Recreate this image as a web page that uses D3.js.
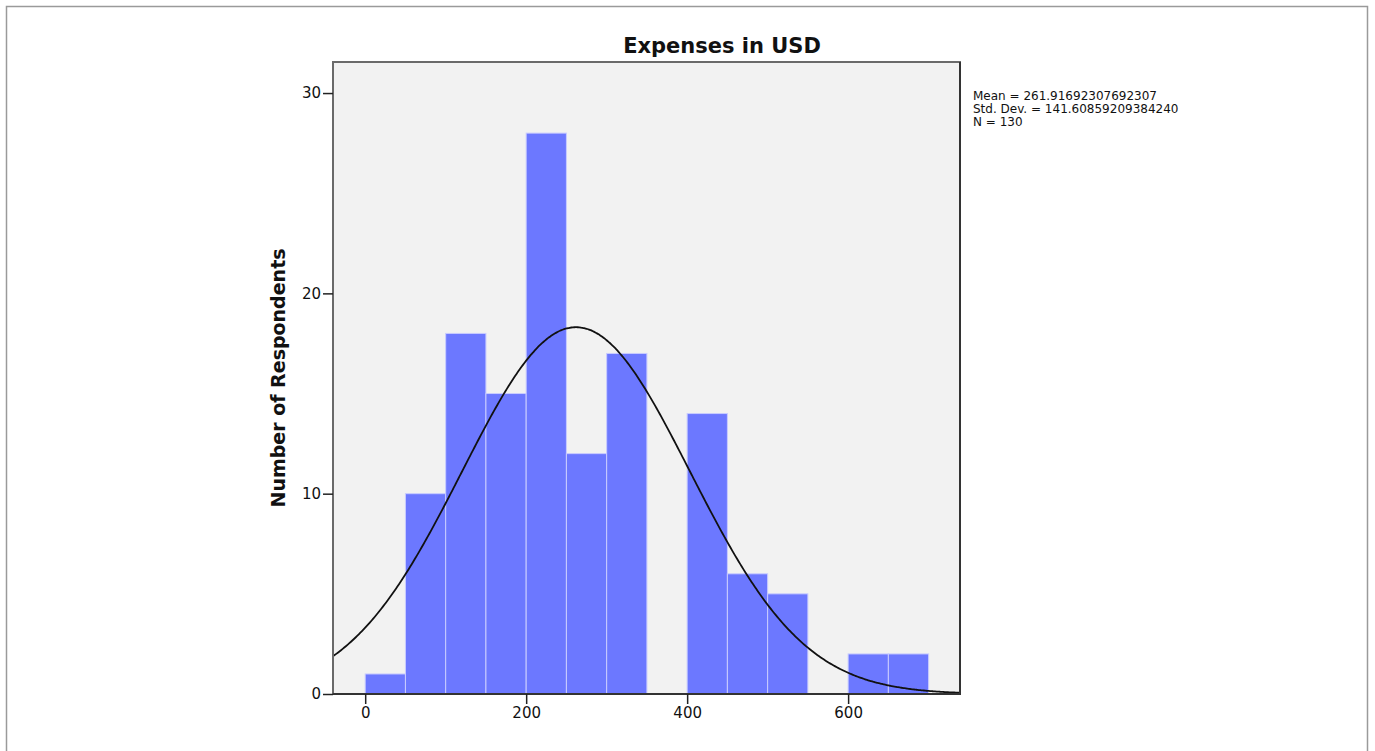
<!DOCTYPE html>
<html lang="en">
<head>
    <meta charset="UTF-8">
    <title>Expenses in USD</title>
    <script src="https://d3js.org/d3.v7.min.js"></script>
    <style>
        body { margin: 0; background: #fff; }
        text { font-family: 'DejaVu Sans', sans-serif; fill: #111; }
    </style>
</head>
<body>
<script>
    // histogram bins (lower edge, width 50) and counts
    const binStarts = [0, 50, 100, 150, 200, 250, 300, 350, 400, 450, 500, 550, 600, 650];
    const counts    = [1, 10, 18, 15, 28, 12, 17, 0, 14, 6, 5, 0, 2, 2];
    const binWidth = 50;

    const xTicks = [0, 200, 400, 600];
    const yTicks = [0, 10, 20, 30];

    const statLines = ["Mean = 261.91692307692307", "Std. Dev. = 141.60859209384240", "N = 130"];
    const mean = 261.91692307692307, sd = 141.60859209384240, n = 130;

    const W = 1375, H = 751;
    const plotL = 333, plotR = 960, plotT = 62, plotB = 694;

    const svg = d3.select("body").append("svg")
        .attr("width", W).attr("height", H);

    // outer frame
    svg.append("rect")
        .attr("x", 6.5).attr("y", 6.5)
        .attr("width", 1361).attr("height", 780)
        .attr("fill", "none").attr("stroke", "#9a9a9a").attr("stroke-width", 1.5);

    const x = d3.scaleLinear().domain([-40, 739]).range([plotL, plotR]);
    const y = d3.scaleLinear().domain([0, 31.55]).range([plotB, plotT]);

    // plot background
    svg.append("rect")
        .attr("x", plotL).attr("y", plotT)
        .attr("width", plotR - plotL).attr("height", plotB - plotT)
        .attr("fill", "#f2f2f2");

    // bars
    svg.append("g").selectAll("rect")
        .data(binStarts.map((b, i) => ({b: b, c: counts[i]})).filter(d => d.c > 0))
        .join("rect")
        .attr("x", d => x(d.b))
        .attr("y", d => y(d.c))
        .attr("width", d => x(d.b + binWidth) - x(d.b))
        .attr("height", d => y(0) - y(d.c))
        .attr("fill", "#6c78ff")
        .attr("stroke", "#c9ccff")
        .attr("stroke-width", 1);

    // fitted normal curve
    const normal = v => n * binWidth * Math.exp(-0.5 * ((v - mean) / sd) ** 2) / (sd * Math.sqrt(2 * Math.PI));
    const curveX = d3.range(-40, 740, 2);
    svg.append("path")
        .datum(curveX)
        .attr("d", d3.line().x(v => x(v)).y(v => y(normal(v))).curve(d3.curveBasis))
        .attr("fill", "none")
        .attr("stroke", "#111")
        .attr("stroke-width", 1.8);

    // plot border
    svg.append("rect")
        .attr("x", plotL).attr("y", plotT)
        .attr("width", plotR - plotL).attr("height", plotB - plotT)
        .attr("fill", "none").attr("stroke", "#6a6a6a").attr("stroke-width", 2);
    svg.append("line")
        .attr("x1", plotL).attr("x2", plotR + 1)
        .attr("y1", plotB).attr("y2", plotB)
        .attr("stroke", "#333").attr("stroke-width", 2);
    svg.append("line")
        .attr("x1", plotR).attr("x2", plotR)
        .attr("y1", plotT).attr("y2", plotB)
        .attr("stroke", "#333").attr("stroke-width", 2);

    // axes
    const xAxis = svg.append("g")
        .attr("transform", `translate(0,${plotB})`)
        .call(d3.axisBottom(x).tickValues(xTicks).tickSize(10).tickPadding(3));
    xAxis.select(".domain").remove();
    xAxis.selectAll("line").attr("stroke", "#222").attr("stroke-width", 1.5);
    xAxis.selectAll("text").style("font-size", "15px").attr("fill", "#222");

    const yAxis = svg.append("g")
        .attr("transform", `translate(${plotL},0)`)
        .call(d3.axisLeft(y).tickValues(yTicks).tickSize(10).tickPadding(2));
    yAxis.select(".domain").remove();
    yAxis.selectAll("line").attr("stroke", "#222").attr("stroke-width", 1.5);
    yAxis.selectAll("text").style("font-size", "15px").attr("fill", "#222");

    // title
    svg.append("text")
        .attr("x", 722).attr("y", 53)
        .attr("text-anchor", "middle")
        .style("font-size", "21px").style("font-weight", "bold")
        .text("Expenses in USD");

    // y label
    svg.append("text")
        .attr("transform", "translate(285,378) rotate(-90)")
        .attr("text-anchor", "middle")
        .style("font-size", "19px").style("font-weight", "bold")
        .text("Number of Respondents");

    // stats
    svg.append("g").selectAll("text")
        .data(statLines).join("text")
        .attr("x", 973)
        .attr("y", (d, i) => 100 + i * 13)
        .style("font-size", "12px")
        .text(d => d);
</script>
</body>
</html>
